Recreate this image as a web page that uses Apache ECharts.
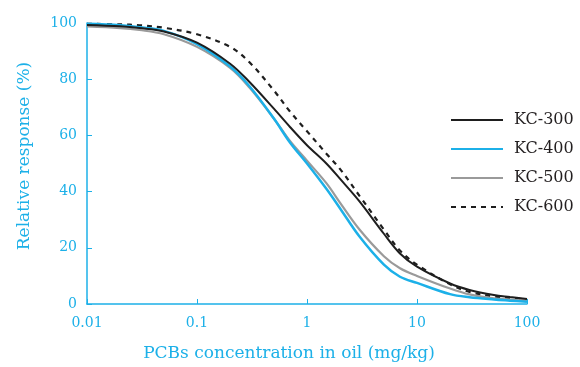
<!DOCTYPE html>
<html>
<head>
<meta charset="utf-8">
<script src="https://cdn.jsdelivr.net/npm/echarts@6/dist/echarts.min.js"></script>
<style>
  html, body { margin: 0; padding: 0; background: #fff; }
  #chart { width: 580px; height: 367px; }
</style>
</head>
<body>
<div id="chart"></div>
<script>
// concentration (mg/kg), log scale
const conc = [0.01, 0.02, 0.03, 0.05, 0.1, 0.2, 0.3, 0.5, 0.7, 1, 1.5, 2, 3, 5, 7, 10, 20, 30, 50, 70, 100]

// relative response (%)
const kc300 = [99.3, 98.8, 98.2, 97, 93, 85.5, 79, 69.5, 63, 56.5, 50, 44.5, 36.5, 25, 18, 13.3, 7.3, 5, 3.2, 2.5, 1.8]
const kc400 = [99.7, 99.2, 98.5, 97.2, 92.5, 84.5, 77.5, 66, 57.5, 50, 41, 34, 24, 14, 9.7, 7.5, 3.5, 2.4, 1.6, 1.2, 0.8]
const kc500 = [98.8, 98.2, 97.5, 96, 91.5, 84, 77, 66, 58, 51, 43, 36, 26.5, 17, 12.7, 10, 5.5, 3.4, 2, 1.6, 1.3]
const kc600 = [99.7, 99.5, 99.2, 98.3, 96, 91.5, 86, 76, 68.5, 61.5, 53.5, 48, 38.5, 26.5, 19, 14, 7, 4.3, 2.7, 2.2, 1.5]

const seriesNames = ['KC-300', 'KC-400', 'KC-500', 'KC-600']
const xTicks = ['0.01', '0.1', '1', '10', '100']

const cyan = '#1cb0e8'
const serif = '"DejaVu Serif", "Liberation Serif", serif'

const pairs = (ys) => conc.map((c, i) => [c, ys[i]])

const styles = [
  { color: '#1e1e1e', width: 2, type: 'solid' },
  { color: cyan, width: 2.5, type: 'solid' },
  { color: '#9a9a9a', width: 2.2, type: 'solid' },
  { color: '#1e1e1e', width: 2.2, type: [5, 5] },
]

const chart = echarts.init(document.getElementById('chart'), null, { renderer: 'canvas' })

chart.setOption({
  backgroundColor: '#fff',
  animation: false,
  grid: {
    left: 87,
    right: 53,
    top: 23,
    bottom: 63,
    containLabel: false,
    outerBoundsMode: 'none',
  },
  legend: {
    orient: 'vertical',
    left: 445,
    top: 107,
    itemWidth: 52,
    itemHeight: 14,
    itemGap: 13,
    data: seriesNames,
    itemStyle: { opacity: 0 },
    textStyle: {
      fontFamily: serif,
      fontSize: 16,
      color: '#231f20',
      padding: [0, 0, 0, 6],
    },
  },
  xAxis: {
    type: 'log',
    logBase: 10,
    min: 0.01,
    max: 100,
    name: 'PCBs concentration in oil (mg/kg)',
    nameLocation: 'middle',
    nameGap: 41,
    nameMoveOverlap: false,
    nameTextStyle: {
      fontFamily: serif,
      fontSize: 17,
      color: cyan,
      padding: [0, 36, 0, 0],
    },
    axisLine: { lineStyle: { color: cyan, width: 1.5 } },
    axisTick: { inside: true, length: 5, lineStyle: { color: cyan, width: 1 } },
    minorTick: { show: false },
    splitLine: { show: false },
    axisLabel: {
      margin: 12,
      color: cyan,
      fontFamily: serif,
      fontSize: 14,
      formatter: (v) => {
        const s = xTicks.find((t) => Math.abs(Number(t) - v) < v * 1e-6)
        return s || ''
      },
    },
  },
  yAxis: {
    type: 'value',
    min: 0,
    max: 100,
    interval: 20,
    name: 'Relative response (%)',
    nameLocation: 'middle',
    nameGap: 54,
    nameMoveOverlap: false,
    nameTextStyle: {
      fontFamily: serif,
      fontSize: 17,
      color: cyan,
      padding: [0, 0, 0, 15],
    },
    axisLine: { show: true, lineStyle: { color: cyan, width: 1.5 } },
    axisTick: { show: true, inside: true, length: 5, lineStyle: { color: cyan, width: 1 } },
    splitLine: { show: false },
    axisLabel: {
      margin: 10,
      color: cyan,
      fontFamily: serif,
      fontSize: 14,
    },
  },
  series: [kc300, kc400, kc500, kc600].map((ys, i) => ({
    name: seriesNames[i],
    type: 'line',
    smooth: 0.35,
    symbol: 'none',
    showSymbol: false,
    color: styles[i].color,
    lineStyle: styles[i],
    data: pairs(ys),
    z: 4 - i,
  })),
})
</script>
</body>
</html>
